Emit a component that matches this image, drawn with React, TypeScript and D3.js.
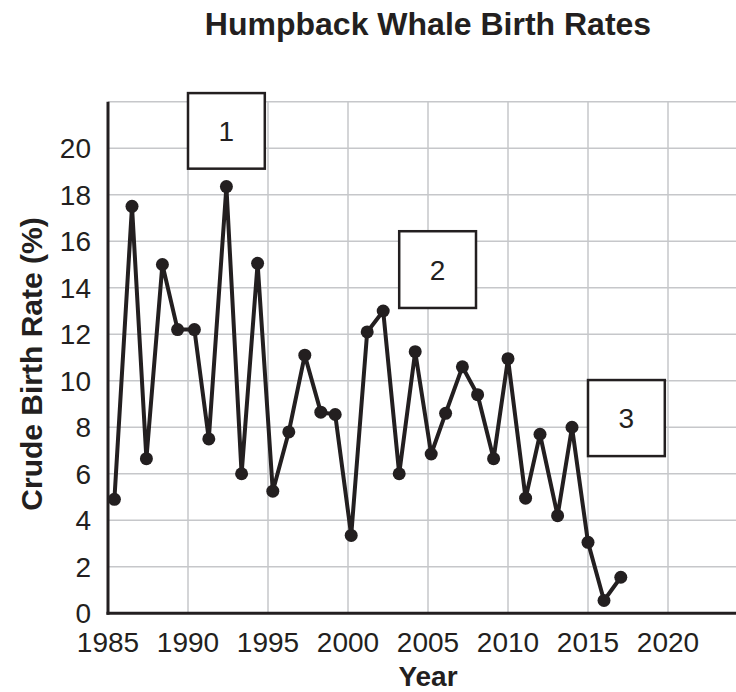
import React from 'react';
import * as d3 from 'd3';

// readings taken off the chart (year, crude birth rate %)
const years = [
  1985.4, 1986.5, 1987.4, 1988.4, 1989.35, 1990.4, 1991.3, 1992.4, 1993.35, 1994.35,
  1995.3, 1996.3, 1997.3, 1998.3, 1999.2, 2000.2, 2001.2, 2002.2, 2003.2, 2004.2,
  2005.2, 2006.1, 2007.15, 2008.1, 2009.1, 2010.0, 2011.1, 2012.0, 2013.1, 2014.0,
  2015.0, 2016.0, 2017.05,
];
const rates = [
  4.9, 17.5, 6.65, 15.0, 12.2, 12.2, 7.5, 18.35, 6.0, 15.05,
  5.25, 7.8, 11.1, 8.65, 8.55, 3.35, 12.1, 13.0, 6.0, 11.25,
  6.85, 8.6, 10.6, 9.4, 6.65, 10.95, 4.95, 7.7, 4.2, 8.0,
  3.05, 0.55, 1.55,
];

const xTicks = [1985, 1990, 1995, 2000, 2005, 2010, 2015, 2020];
const yTicks = [0, 2, 4, 6, 8, 10, 12, 14, 16, 18, 20];
const yGrid = [2, 4, 6, 8, 10, 12, 14, 16, 18, 20, 22];

// numbered callout boxes (data units)
const boxLabels = ['1', '2', '3'];
const boxX0 = [1990, 2003.2, 2015];
const boxX1 = [1994.8, 2008.0, 2019.8];
const boxTop = [22.37, 16.43, 10.03];
const boxBottom = [19.12, 13.13, 6.76];

const W = 736;
const H = 692;
const font = '"Liberation Sans", Arial, Helvetica, sans-serif';
const ink = '#231f20';
const gridColor = '#c6c7ca';

export default function App() {
  const x = d3.scaleLinear().domain([1985, 2024.25]).range([108, 736]);
  const y = d3.scaleLinear().domain([0, 22]).range([613.3, 101.7]);

  const pts: [number, number][] = years.map((yr, i) => [yr, rates[i]]);
  const line = d3
    .line<[number, number]>()
    .x(d => x(d[0]))
    .y(d => y(d[1]));

  const [x0, x1] = x.range();

  return (
    <svg
      width={W}
      height={H}
      style={{ position: 'absolute', left: 0, top: 0, background: '#fff' }}
      fontFamily={font}
    >
      <rect width={W} height={H} fill="#fff" />
      <text x={428} y={35} textAnchor="middle" fontSize={32} fontWeight="bold" fill={ink}>
        Humpback Whale Birth Rates
      </text>

      {/* grid */}
      {yGrid.map(v => (
        <line key={'gy' + v} x1={x0} x2={x1} y1={y(v)} y2={y(v)} stroke={gridColor} strokeWidth={1.5} />
      ))}
      {xTicks.slice(1).map(v => (
        <line key={'gx' + v} x1={x(v)} x2={x(v)} y1={y(0)} y2={y(22)} stroke={gridColor} strokeWidth={1.5} />
      ))}

      {/* axes */}
      <line x1={x0} x2={x0} y1={y(22)} y2={y(0) + 1.5} stroke={ink} strokeWidth={3} />
      <line x1={x0 - 1.5} x2={x1} y1={y(0)} y2={y(0)} stroke={ink} strokeWidth={3} />

      {yTicks.map(v => (
        <text key={'ty' + v} x={x0 - 17} y={y(v)} dy="0.36em" textAnchor="end" fontSize={28} fill={ink}>
          {v}
        </text>
      ))}
      {xTicks.map(v => (
        <text key={'tx' + v} x={x(v)} y={652} textAnchor="middle" fontSize={28} fill={ink}>
          {v}
        </text>
      ))}

      <text x={428} y={686} textAnchor="middle" fontSize={28} fontWeight="bold" fill={ink}>
        Year
      </text>
      <text
        transform={`translate(42,364) rotate(-90)`}
        textAnchor="middle"
        fontSize={30}
        fontWeight="bold"
        fill={ink}
      >
        Crude Birth Rate (%)
      </text>

      {/* series */}
      <path d={line(pts) ?? ''} fill="none" stroke={ink} strokeWidth={4} strokeLinejoin="miter" />
      {pts.map((d, i) => (
        <circle key={'p' + i} cx={x(d[0])} cy={y(d[1])} r={6.5} fill={ink} />
      ))}

      {/* callout boxes */}
      {boxLabels.map((lab, i) => {
        const bx = x(boxX0[i]);
        const by = y(boxTop[i]);
        const bw = x(boxX1[i]) - bx;
        const bh = y(boxBottom[i]) - by;
        return (
          <g key={'b' + lab}>
            <rect x={bx} y={by} width={bw} height={bh} fill="#fff" stroke={ink} strokeWidth={2.5} />
            <text x={bx + bw / 2} y={by + bh / 2} dy="0.36em" textAnchor="middle" fontSize={28} fill={ink}>
              {lab}
            </text>
          </g>
        );
      })}
    </svg>
  );
}
